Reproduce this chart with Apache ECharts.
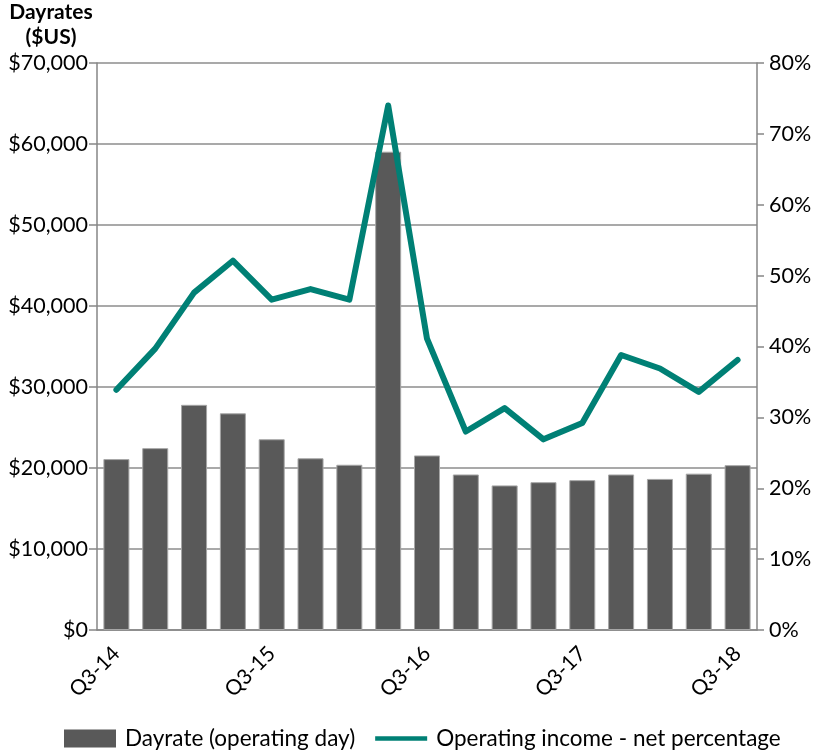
<!DOCTYPE html>
<html>
<head>
<meta charset="utf-8">
<script src="https://cdn.jsdelivr.net/npm/echarts@6/dist/echarts.min.js"></script>
<style>
html,body{margin:0;padding:0;background:#fff;}
#c{width:815px;height:753px;}
</style>
</head>
<body>
<div id="c"></div>
<script>
const categories = ['Q3-14','Q4-14','Q1-15','Q2-15','Q3-15','Q4-15','Q1-16','Q2-16','Q3-16','Q4-16','Q1-17','Q2-17','Q3-17','Q4-17','Q1-18','Q2-18','Q3-18'];
const dayrate = [21100,22450,27800,26750,23550,21200,20400,59050,21550,19200,17850,18250,18500,19200,18650,19300,20350];
const opIncomePct = [33.9,39.7,47.6,52.1,46.6,48.1,46.6,74.0,41.1,28.0,31.3,26.9,29.2,38.8,36.9,33.6,38.1];
const leftTicks = {min:0, max:70000, interval:10000};
const rightTicks = {min:0, max:80, interval:10};

const FONT = 'Lato';
const chart = echarts.init(document.getElementById('c'));
chart.setOption({
  animation:false,
  backgroundColor:'#fff',
  textStyle:{fontFamily:FONT},
  title:{
    text:'Dayrates\n($US)',
    left:46, top:-5, textAlign:'center',
    textStyle:{fontFamily:FONT,fontWeight:'bold',fontSize:21,color:'#000',lineHeight:25}
  },
  grid:{left:97,right:58,top:63,bottom:123,containLabel:false},
  legend:{
    bottom:-2, left:59,
    itemGap:20,
    textStyle:{fontFamily:FONT,fontSize:22.5,color:'#000',padding:[0,0,0,4]},
    data:[
      {name:'Dayrate (operating day)', icon:'rect', itemStyle:{borderWidth:0}},
      {name:'Operating income - net percentage', icon:'path://M0,0 L55,0 L55,5 L0,5 Z', itemStyle:{color:'#008075'}}
    ],
    itemWidth:52, itemHeight:18
  },
  xAxis:{
    type:'category',
    data:categories,
    boundaryGap:true,
    axisLine:{lineStyle:{color:'#868686',width:1.5}},
    axisTick:{interval:0,length:7,lineStyle:{color:'#868686',width:1.5}},
    axisLabel:{interval:3,rotate:45,fontFamily:FONT,fontSize:21,color:'#000',margin:20}
  },
  yAxis:[
    {
      type:'value', min:leftTicks.min, max:leftTicks.max, interval:leftTicks.interval,
      axisLine:{show:true,lineStyle:{color:'#868686',width:1.5}},
      axisTick:{show:true,length:8,lineStyle:{color:'#868686',width:1.5}},
      splitLine:{show:true,lineStyle:{color:'#8c8c8c',width:1.5}},
      axisLabel:{fontFamily:FONT,fontSize:21.5,color:'#000',margin:9,
        formatter:v=>'$'+v.toLocaleString('en-US')}
    },
    {
      type:'value', min:rightTicks.min, max:rightTicks.max, interval:rightTicks.interval,
      position:'right',
      axisLine:{show:true,lineStyle:{color:'#868686',width:1.5}},
      axisTick:{show:true,length:7,lineStyle:{color:'#868686',width:1.5}},
      splitLine:{show:false},
      axisLabel:{fontFamily:FONT,fontSize:21.5,color:'#000',margin:12,formatter:'{value}%'}
    }
  ],
  series:[
    {
      name:'Dayrate (operating day)',
      type:'bar',
      data:dayrate,
      yAxisIndex:0,
      barCategoryGap:'33%',
      itemStyle:{color:'#595959',borderColor:'#a6a6a6',borderWidth:1}
    },
    {
      name:'Operating income - net percentage',
      type:'line',
      data:opIncomePct,
      yAxisIndex:1,
      showSymbol:false,
      symbol:'none',
      lineStyle:{color:'#008075',width:6,cap:'round',join:'round'},
      itemStyle:{color:'#008075'}
    }
  ]
});
</script>
</body>
</html>
